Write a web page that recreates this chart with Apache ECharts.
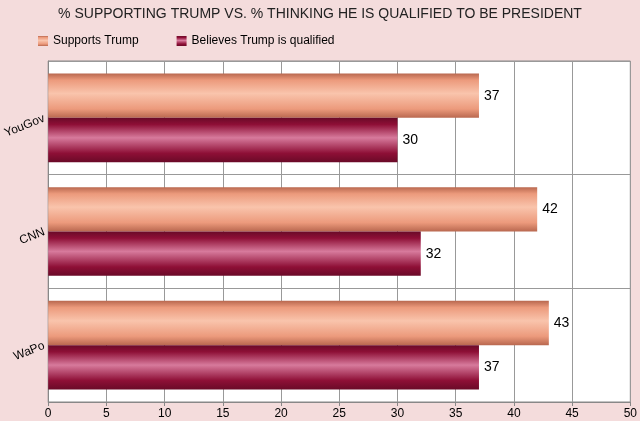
<!DOCTYPE html>
<html><head><meta charset="utf-8">
<script src="https://cdn.jsdelivr.net/npm/echarts@6/dist/echarts.min.js"></script>
<style>html,body{margin:0;padding:0;background:#f4dcdc;}#chart{width:640px;height:421px;}</style>
</head><body><div id="chart"></div>
<script>
var categories = ['YouGov', 'CNN', 'WaPo'];
var supports = [37, 42, 43];
var qualified = [30, 32, 37];

function grad(edge, mid, dark) {
  return new echarts.graphic.LinearGradient(0, 0, 0, 1, [
    {offset: 0, color: dark}, {offset: 0.15, color: edge}, {offset: 0.45, color: mid},
    {offset: 0.8, color: edge}, {offset: 1, color: dark}
  ]);
}
var c1 = grad('#ec9a7c', '#f9c4ac', '#b9684f');
var c2 = grad('#8e0f36', '#d77a9c', '#6a0a28');

var chart = echarts.init(document.getElementById('chart'));
chart.setOption({
  backgroundColor: '#f4dcdc',
  textStyle: {fontFamily: 'Liberation Sans, Arial, sans-serif'},
  title: {text: '% SUPPORTING TRUMP VS. % THINKING HE IS QUALIFIED TO BE PRESIDENT', left: 'center', top: 2,
    textStyle: {fontSize: 14, fontWeight: 'normal', color: '#222'}},
  legend: {left: 33, top: 30, itemWidth: 10, itemHeight: 10, itemGap: 38, icon: 'rect',
    textStyle: {fontSize: 12, color: '#000'}, data: ['Supports Trump', 'Believes Trump is qualified']},
  grid: {left: 47, right: 8, top: 61, bottom: 19, containLabel: false, show: true, backgroundColor: '#fff', borderColor: '#888'},
  xAxis: {type: 'value', min: 0, max: 50, interval: 5,
    axisLine: {show: true, lineStyle: {color: '#888'}}, axisTick: {show: true, length: 4, lineStyle: {color: '#888'}},
    axisLabel: {color: '#000', fontSize: 12, margin: 6},
    splitLine: {lineStyle: {color: '#999'}}},
  yAxis: {type: 'category', data: categories, inverse: true,
    axisLine: {lineStyle: {color: '#888'}}, axisTick: {show: false},
    axisLabel: {color: '#000', fontSize: 12, rotate: 22, margin: 4},
    splitLine: {show: true, lineStyle: {color: '#999'}}},
  series: [
    {name: 'Supports Trump', type: 'bar', data: supports, barGap: '0%', barCategoryGap: '22%',
     itemStyle: {color: c1}, label: {show: true, position: 'right', color: '#000', fontSize: 14}},
    {name: 'Believes Trump is qualified', type: 'bar', data: qualified,
     itemStyle: {color: c2}, label: {show: true, position: 'right', color: '#000', fontSize: 14}}
  ]
});
</script></body></html>
